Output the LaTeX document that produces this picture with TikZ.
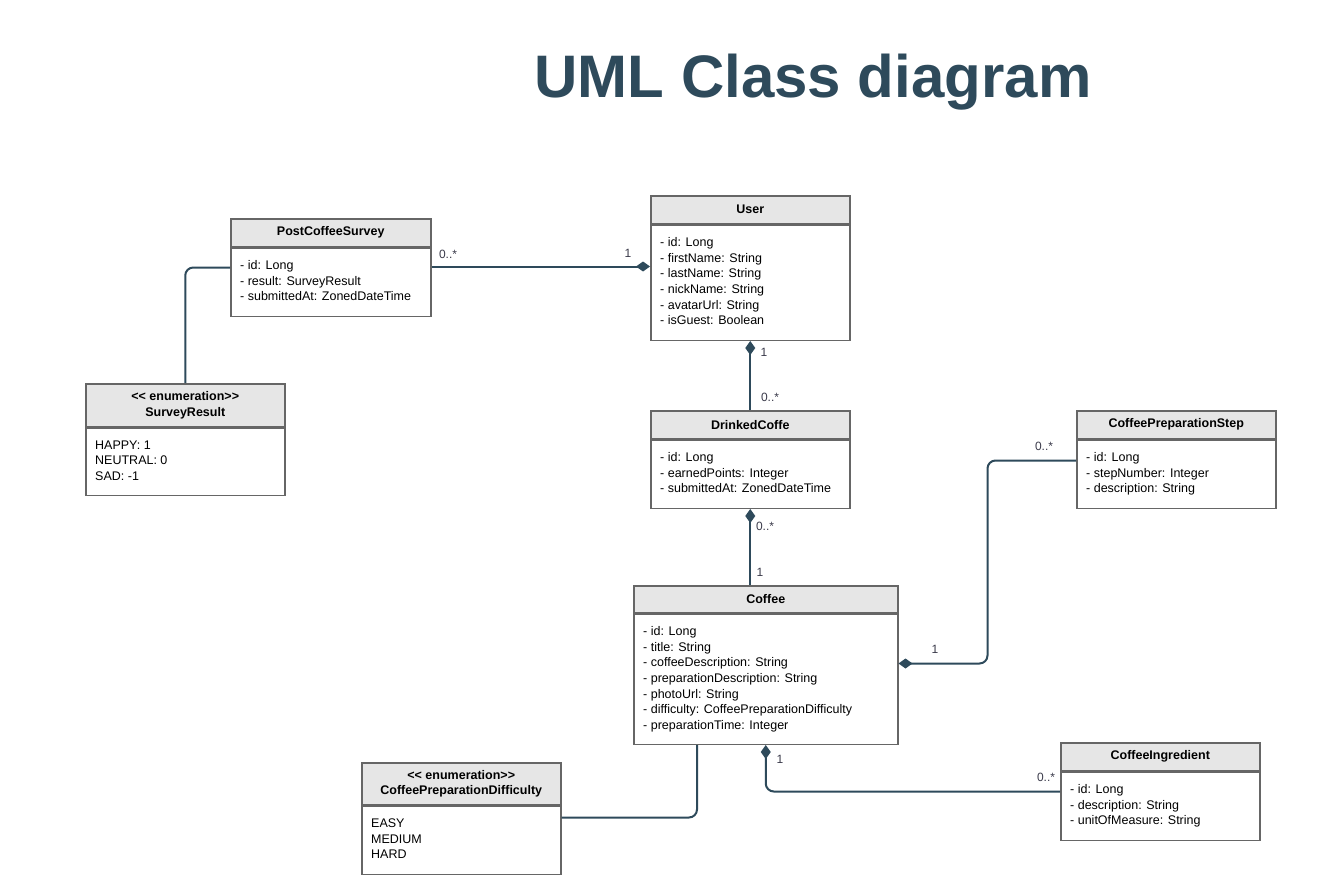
\documentclass[tikz,border=0pt]{standalone}
\usepackage{fontspec}
\setmainfont{Liberation Sans}
\usetikzlibrary{arrows.meta,calc}
\definecolor{slate}{HTML}{2E4A5B}
\definecolor{boxline}{HTML}{666666}
\definecolor{hdrfill}{HTML}{E6E6E6}
\definecolor{lbl}{HTML}{3A3A4A}
\newcommand\umlbox[8]{%
  \node[hdrbox, minimum width=#4pt, minimum height=#5pt, anchor=north west] (#1) at (#2,#3) {#7};
  \node[bodybox, minimum width=#4pt, minimum height=#6pt, anchor=north west] (#1b) at (#1.south west) {};
  \node[bodytext, anchor=north west] (#1t) at ($(#1b.north west)+(10,13)$) {#8};
}
\newcommand\enumtag{<\kern0pt< enumeration>\kern0pt>}
\begin{document}
\begin{tikzpicture}[x=1pt,y=-1pt,
  hdrbox/.style={draw=boxline, fill=hdrfill, line width=1.5pt, inner sep=0pt, align=center,
    font=\fontsize{12.5}{15.5}\selectfont\bfseries},
  bodybox/.style={draw=boxline, fill=white, line width=1.5pt, inner sep=0pt},
  bodytext/.style={inner sep=0pt, align=left, font=\fontsize{12.5}{15.6}\selectfont},
  conn/.style={draw=slate, line width=2pt},
  comp/.tip={Diamond[length=14pt,width=10pt,fill=slate]},
  mult/.style={inner sep=0pt, text=lbl, font=\fontsize{12}{14}\selectfont},
  title/.style={inner sep=0pt, text=slate, font=\fontsize{60}{68}\selectfont\bfseries}
]
\useasboundingbox (0,0) rectangle (1332,896);
\fill[white] (0,0) rectangle (1332,896);

\node[title, anchor=base] (ttl) at (813,98) {UML Class diagram};

\umlbox{pcs}{230}{218}{200}{28}{68}{PostCoffeeSurvey}{- id: Long\\- result: SurveyResult\\- submittedAt: ZonedDateTime}
\umlbox{user}{650}{195}{199}{28}{115}{User}{- id: Long\\- firstName: String\\- lastName: String\\- nickName: String\\- avatarUrl: String\\- isGuest: Boolean}
\umlbox{sr}{85}{383}{199}{43}{67}{\enumtag\\SurveyResult}{HAPPY: 1\\NEUTRAL: 0\\SAD: -1}
\umlbox{dc}{650}{410}{199}{28}{68}{DrinkedCoffe}{- id: Long\\- earnedPoints: Integer\\- submittedAt: ZonedDateTime}
\umlbox{cps}{1076}{410}{199}{28}{68}{CoffeePreparationStep}{- id: Long\\- stepNumber: Integer\\- description: String}
\umlbox{cof}{633}{585}{264}{27}{130}{Coffee}{- id: Long\\- title: String\\- coffeeDescription: String\\- preparationDescription: String\\- photoUrl: String\\- difficulty: CoffeePreparationDifficulty\\- preparationTime: Integer}
\umlbox{cpd}{361}{762}{199}{42}{68}{\enumtag\\CoffeePreparationDifficulty}{EASY\\MEDIUM\\HARD}
\umlbox{ci}{1060}{742}{199}{28}{68}{CoffeeIngredient}{- id: Long\\- description: String\\- unitOfMeasure: String}

% connectors
\draw[conn, -comp] ($(pcsb.north east)+(0,19)$) coordinate (c1) -- (c1 -| userb.west);
\draw[conn, rounded corners=8pt] (sr.north) |- ($(pcsb.north west)+(0,20)$);
\draw[conn, comp-] (userb.south) -- (dc.north);
\draw[conn, comp-] (dcb.south) -- (dcb.south |- cof.north);
\draw[conn, comp-, rounded corners=8pt] ($(cofb.north east)+(0,50)$) -- ++(89,0) |- ($(cpsb.north west)+(0,21)$);
\draw[conn, rounded corners=8pt] ($(cofb.south west)+(64,0)$) |- ($(cpdb.north east)+(0,12)$);
\draw[conn, comp-, rounded corners=8pt] (cofb.south) |- ($(cib.north west)+(0,20)$);

% multiplicities
\node[mult] (m1) at (448,254) {0..*};
\node[mult] (m2) at (628,253) {1};
\node[mult] (m3) at (764,352) {1};
\node[mult] (m4) at (770,397) {0..*};
\node[mult] (m5) at (765,526) {0..*};
\node[mult] (m6) at (760,572) {1};
\node[mult] (m7) at (935,649) {1};
\node[mult] (m8) at (1044,446) {0..*};
\node[mult] (m9) at (780,759) {1};
\node[mult] (m10) at (1046,777) {0..*};
\end{tikzpicture}
\end{document}
